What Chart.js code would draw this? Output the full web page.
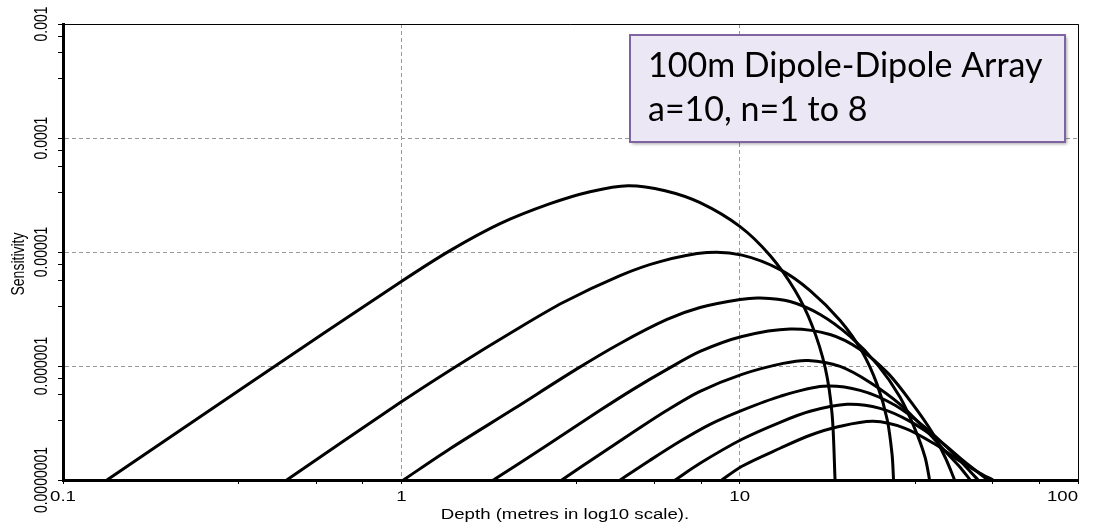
<!DOCTYPE html>
<html>
<head>
<meta charset="utf-8">
<script src="https://cdn.jsdelivr.net/npm/chart.js@4.4.1/dist/chart.umd.min.js"></script>
<style>
  html, body { margin: 0; padding: 0; background: #fff; }
  #chart { display: block; }
</style>
</head>
<body>
<canvas id="chart" width="1095" height="528"></canvas>
<script>
// depth (m) and sensitivity for each n
const n1Depth = [0.1349, 0.357, 1.005, 1.393, 1.958, 2.752, 3.613, 4.679, 6.018, 7.638, 10.03, 12.30, 14.58, 16.37, 17.89, 18.76, 19.14];
const n1Sens  = [1e-7, 7.11e-7, 5.56e-6, 1.028e-5, 1.773e-5, 2.653e-5, 3.379e-5, 3.814e-5, 3.448e-5, 2.707e-5, 1.669e-5, 9.30e-6, 4.59e-6, 2.268e-6, 9.72e-7, 3.77e-7, 1e-7];
const n2Depth = [0.4585, 1.005, 1.491, 2.139, 3.006, 4.431, 5.818, 8.011, 10.16, 13.17, 16.15, 19.81, 23.00, 25.48, 27.28, 28.21, 28.50];
const n2Sens  = [1e-7, 4.90e-7, 1.043e-6, 2.009e-6, 3.605e-6, 6.21e-6, 8.24e-6, 9.88e-6, 9.39e-6, 7.01e-6, 4.59e-6, 2.507e-6, 1.342e-6, 6.90e-7, 3.41e-7, 1.682e-7, 1e-7];
const n3Depth = [1.014, 1.393, 2.139, 3.285, 4.431, 6.101, 7.638, 10.03, 11.49, 14.09, 17.29, 21.21, 25.65, 29.80, 33.00, 35.32, 36.42];
const n3Sens  = [1e-7, 1.88e-7, 4.17e-7, 9.34e-7, 1.577e-6, 2.559e-6, 3.258e-6, 3.83e-6, 3.947e-6, 3.679e-6, 2.83e-6, 1.816e-6, 1.012e-6, 5.31e-7, 2.784e-7, 1.584e-7, 1e-7];
const n4Depth = [1.871, 2.696, 3.867, 4.841, 6.101, 7.638, 10.16, 14.09, 18.50, 22.70, 27.46, 32.33, 37.04, 40.48, 42.16, 43.17];
const n4Sens  = [1e-7, 2.017e-7, 4.085e-7, 6.24e-7, 9.34e-7, 1.342e-6, 1.816e-6, 2.113e-6, 1.891e-6, 1.398e-6, 8.61e-7, 4.70e-7, 2.621e-7, 1.584e-7, 1.194e-7, 1e-7];
const n5Depth = [2.98, 3.867, 4.841, 6.101, 7.638, 10.16, 13.44, 15.93, 19.81, 24.29, 29.80, 35.32, 40.48, 44.82, 47.99];
const n5Sens  = [1e-7, 1.682e-7, 2.621e-7, 4.085e-7, 5.99e-7, 8.44e-7, 1.054e-6, 1.119e-6, 9.92e-7, 7.18e-7, 4.61e-7, 2.784e-7, 1.788e-7, 1.295e-7, 1e-7];
const n6Depth = [4.431, 5.435, 6.665, 8.177, 10.16, 13.17, 17.64, 22.70, 28.80, 35.32, 41.87, 47.34, 50.67];
const n6Sens  = [1e-7, 1.491e-7, 2.186e-7, 3.08e-7, 4.085e-7, 5.42e-7, 6.63e-7, 6.11e-7, 4.52e-7, 2.90e-7, 1.823e-7, 1.243e-7, 1e-7];
const n7Depth = [6.444, 7.638, 10.16, 13.17, 16.15, 20.77, 26.00, 31.89, 39.12, 46.38, 54.25];
const n7Sens  = [1e-7, 1.403e-7, 2.276e-7, 3.207e-7, 4.004e-7, 4.61e-7, 4.25e-7, 3.27e-7, 2.186e-7, 1.432e-7, 1e-7];
const n8Depth = [8.855, 10.16, 13.17, 16.15, 19.81, 24.80, 30.83, 37.82, 44.82, 51.36, 56.12];
const n8Sens  = [1e-7, 1.321e-7, 1.899e-7, 2.468e-7, 2.958e-7, 3.27e-7, 2.842e-7, 2.058e-7, 1.461e-7, 1.147e-7, 1e-7];

const xTickValues = [0.1, 1, 10, 100];
const xTickLabels = ['0.1', '1', '10', '100'];
const yTickValues = [1e-7, 1e-6, 1e-5, 1e-4, 1e-3];
const yTickLabels = ['0.0000001', '0.000001', '0.00001', '0.0001', '0.001'];
const minorSteps = [3.3, 5.6, 7.7];

const curves = [
  [n1Depth, n1Sens], [n2Depth, n2Sens], [n3Depth, n3Sens], [n4Depth, n4Sens],
  [n5Depth, n5Sens], [n6Depth, n6Sens], [n7Depth, n7Sens], [n8Depth, n8Sens]
];

function withMinors(decades) {
  const out = [];
  decades.forEach((d, i) => {
    out.push({ value: d, major: true });
    if (i < decades.length - 1) minorSteps.forEach(m => out.push({ value: d * m, major: false }));
  });
  return out;
}

const isDecade = v => Math.abs(Math.log10(v) - Math.round(Math.log10(v))) < 1e-6;

// old windows style text, stretched sideways like the original picture
function wideText(ctx, str, x, y, rotated, align) {
  ctx.save();
  ctx.translate(x, y);
  ctx.scale(1.33, 1);
  if (rotated) ctx.rotate(-Math.PI / 2);
  ctx.textAlign = align || 'center';
  ctx.textBaseline = 'middle';
  ctx.fillText(str, 0, 0);
  ctx.restore();
}

const decorations = {
  id: 'decorations',
  afterDraw(chart) {
    const { ctx, chartArea: a, scales } = chart;
    // thin frame on top and right
    ctx.save();
    ctx.strokeStyle = '#000';
    ctx.lineWidth = 1;
    ctx.beginPath();
    ctx.moveTo(a.left, a.top + 0.5);
    ctx.lineTo(a.right + 0.5, a.top + 0.5);
    ctx.lineTo(a.right + 0.5, a.bottom);
    ctx.stroke();

    // axis labels
    ctx.fillStyle = '#000';
    ctx.font = '14px "Liberation Sans", Arial, sans-serif';
    yTickLabels.forEach((lab, i) => {
      wideText(ctx, lab, 42, scales.y.getPixelForValue(yTickValues[i]), true);
    });
    xTickLabels.forEach((lab, i) => {
      const px = scales.x.getPixelForValue(xTickValues[i]);
      if (i === xTickLabels.length - 1) wideText(ctx, lab, a.right, 497, false, 'right');
      else wideText(ctx, lab, px, 497, false);
    });
    wideText(ctx, 'Depth (metres in log10 scale).', 565, 515, false);
    wideText(ctx, 'Sensitivity', 19, 264, true);

    // annotation box
    ctx.shadowColor = 'rgba(0,0,0,0.35)';
    ctx.shadowBlur = 3;
    ctx.shadowOffsetX = 2;
    ctx.shadowOffsetY = 2;
    ctx.fillStyle = '#ece7f4';
    ctx.fillRect(630, 35, 435, 107);
    ctx.shadowColor = 'transparent';
    ctx.strokeStyle = '#8064a2';
    ctx.lineWidth = 2;
    ctx.strokeRect(630, 35, 435, 107);
    ctx.fillStyle = '#000';
    ctx.font = '34px Lato, "Open Sans", sans-serif';
    ctx.textAlign = 'left';
    ctx.textBaseline = 'alphabetic';
    ctx.fillText('100m Dipole-Dipole Array', 648, 77);
    ctx.fillText('a=10, n=1 to 8', 648, 121);
    ctx.restore();
  }
};

const datasets = curves.map(([depth, sens], i) => ({
  label: 'n=' + (i + 1),
  data: depth.map((d, j) => ({ x: d, y: sens[j] })),
  borderColor: '#000',
  borderWidth: 3,
  pointRadius: 0,
  showLine: true,
  fill: false,
  tension: 0.3
}));

new Chart(document.getElementById('chart'), {
  type: 'scatter',
  data: { datasets },
  options: {
    responsive: false,
    animation: false,
    layout: { padding: { top: 24, right: 17, left: 0, bottom: 0 } },
    plugins: { legend: { display: false }, tooltip: { enabled: false } },
    scales: {
      x: {
        type: 'logarithmic',
        min: 0.1,
        max: 100,
        afterFit(s) { s.height = 48; },
        afterBuildTicks(s) { s.ticks = withMinors(xTickValues); },
        ticks: { display: false },
        grid: {
          color: c => (c.tick && isDecade(c.tick.value) ? '#9a9a9a' : 'rgba(0,0,0,0)'),
          lineWidth: 1,
          drawTicks: true,
          tickLength: 4,
          tickColor: '#000',
          tickWidth: 1
        },
        border: { display: true, color: '#000', width: 3, dash: [4, 3] }
      },
      y: {
        type: 'logarithmic',
        min: 1e-7,
        max: 1e-3,
        afterFit(s) { s.width = 63; },
        afterBuildTicks(s) { s.ticks = withMinors(yTickValues); },
        ticks: { display: false },
        grid: {
          color: c => (c.tick && isDecade(c.tick.value) ? '#9a9a9a' : 'rgba(0,0,0,0)'),
          lineWidth: 1,
          drawTicks: true,
          tickLength: 5,
          tickColor: '#000',
          tickWidth: 1
        },
        border: { display: true, color: '#000', width: 3, dash: [4, 3] }
      }
    }
  },
  plugins: [decorations]
});
</script>
</body>
</html>
